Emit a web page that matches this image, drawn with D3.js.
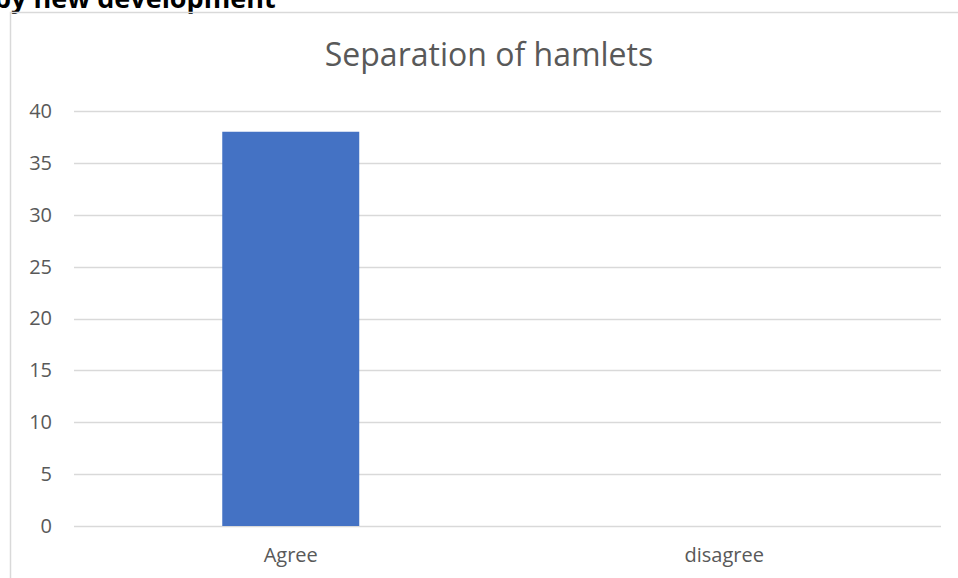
<!DOCTYPE html>
<html>
<head>
<meta charset="utf-8">
<script src="https://cdn.jsdelivr.net/npm/d3@7"></script>
<style>
  body { margin: 0; background: #fff; }
  svg { display: block; font-family: "Open Sans", sans-serif; }
  .tick text { fill: #595959; }
</style>
</head>
<body>
<div class="chart"></div>
<script>
// chart data
const categories = ["Agree", "disagree"];
const values = [38, 0];
const yTicks = [0, 5, 10, 15, 20, 25, 30, 35, 40];
const chartTitle = "Separation of hamlets";
const headingText = "by new development";

const width = 958;
const height = 578;
const margin = {top: 111, right: 17, bottom: 52, left: 74};

const svg = d3.select(".chart").append("svg")
    .attr("width", width)
    .attr("height", height);

// clipped heading above the chart frame
svg.append("text")
    .attr("x", -6)
    .attr("y", 8)
    .attr("font-size", 27)
    .attr("font-weight", "bold")
    .attr("fill", "#000")
    .text(headingText);

// chart area frame, runs off the right and bottom
svg.append("rect")
    .attr("x", 10.5)
    .attr("y", 12.5)
    .attr("width", 1000)
    .attr("height", 1000)
    .attr("fill", "none")
    .attr("stroke", "#d9d9d9")
    .attr("stroke-width", 1.5);

const x = d3.scaleBand()
    .domain(categories)
    .range([margin.left, width - margin.right])
    .paddingInner(0.684)
    .paddingOuter(0.342);

const y = d3.scaleLinear()
    .domain([0, 40])
    .range([height - margin.bottom, margin.top]);

// gridlines
svg.append("g")
    .selectAll("line")
    .data(yTicks)
    .join("line")
    .attr("x1", margin.left)
    .attr("x2", width - margin.right)
    .attr("y1", d => Math.round(y(d)) + 0.5)
    .attr("y2", d => Math.round(y(d)) + 0.5)
    .attr("stroke", "#d9d9d9")
    .attr("stroke-width", 1.3);

// y axis labels
const yAxis = svg.append("g")
    .attr("transform", `translate(${margin.left - 22},0)`)
    .call(d3.axisLeft(y).tickValues(yTicks).tickSize(0).tickPadding(0));
yAxis.select(".domain").remove();
yAxis.selectAll("text")
    .attr("font-size", 20)
    .attr("font-family", "Open Sans, sans-serif");

// bars
svg.append("g")
    .selectAll("rect")
    .data(values)
    .join("rect")
    .attr("x", (d, i) => x(categories[i]))
    .attr("y", d => y(d))
    .attr("width", x.bandwidth())
    .attr("height", d => y(0) - y(d))
    .attr("fill", "#4472c4");

// x axis labels
const xAxis = svg.append("g")
    .attr("transform", `translate(0,${height - margin.bottom})`)
    .call(d3.axisBottom(x).tickSize(0).tickPadding(22));
xAxis.select(".domain").remove();
xAxis.selectAll("text")
    .attr("font-size", 20)
    .attr("font-family", "Open Sans, sans-serif");

// title
svg.append("text")
    .attr("x", 489)
    .attr("y", 66)
    .attr("text-anchor", "middle")
    .attr("font-size", 32)
    .attr("fill", "#595959")
    .text(chartTitle);
</script>
</body>
</html>
